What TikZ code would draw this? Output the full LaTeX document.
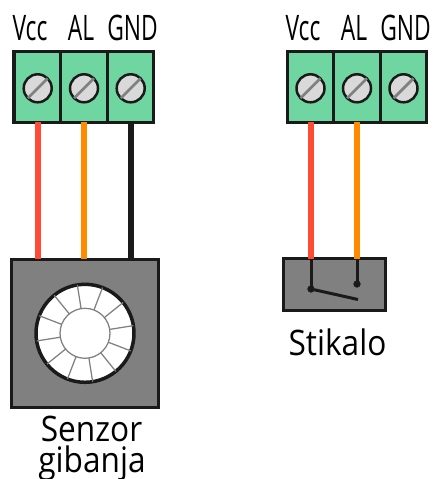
\documentclass[tikz,border=0pt]{standalone}
\usepackage{fontspec}
\setmainfont{Open Sans}
\newfontfamily\narrowfont[FakeStretch=0.65]{Open Sans}
\newfontfamily\captionfont[FakeStretch=0.9]{Open Sans}
\usepackage{xcolor}
\usetikzlibrary{positioning}
\definecolor{termgreen}{HTML}{6FD6A2}
\definecolor{screwgray}{HTML}{D9D9D9}
\definecolor{boxgray}{HTML}{808080}
\definecolor{wirered}{HTML}{FF4B33}
\definecolor{wireorange}{HTML}{FF8A00}
\definecolor{wireblack}{HTML}{1A1A1A}
\tikzset{
  cell/.style={draw=wireblack, fill=termgreen, line width=0.065cm, minimum width=0.93cm, minimum height=1.42cm, inner sep=0pt, outer sep=0pt},
  screw/.style={draw=wireblack, fill=screwgray, circle, line width=0.05cm, minimum size=0.56cm, inner sep=0pt, outer sep=0pt},
  slot/.style={draw=boxgray, line width=0.055cm},
  wire/.style={line width=0.12cm},
  housing/.style={draw=wireblack, fill=boxgray, line width=0.06cm, inner sep=0pt, outer sep=0pt},
  pin/.style={draw=wireblack, fill=wireblack, circle, minimum size=0.13cm, inner sep=0pt, outer sep=0pt},
  terminal/.style={font=\narrowfont\fontsize{20}{24}\selectfont, inner sep=0pt, anchor=base},
  caption/.style={font=\captionfont\fontsize{20}{24}\selectfont, inner sep=0pt, anchor=base}
}
\begin{document}
\begin{tikzpicture}[x=0.02cm, y=-0.02cm]
      \useasboundingbox (0, 0) rectangle (432, 479);
      % left side
      \node[cell] (VccL) at (37.3, 87) {};
      \node[cell] (ALL) at (84, 87) {};
      \node[cell] (GNDL) at (130.5, 87) {};
      \node[screw] (ScrewVL) at (37.7, 88.3) {};
      \node[screw] (ScrewAL) at (84, 88.3) {};
      \node[screw] (ScrewGL) at (130.7, 88.3) {};
      \draw[slot] (ScrewVL.225) -- (ScrewVL.45);
      \draw[slot] (ScrewAL.225) -- (ScrewAL.45);
      \draw[slot] (ScrewGL.225) -- (ScrewGL.45);
      \node[terminal] (LabelVL) at (30, 41) {Vcc};
      \node[terminal] (LabelAL) at (81, 41) {AL};
      \node[terminal] (LabelGL) at (132.5, 41) {GND};

      \node[housing, minimum width=2.95cm, minimum height=2.97cm] (Sensor) at (85.2, 333.3) {};
      \draw[wire, wirered] (VccL.south -| ScrewVL) -- (Sensor.north -| ScrewVL);
      \draw[wire, wireorange] (ALL.south -| ScrewAL) -- (Sensor.north -| ScrewAL);
      \draw[wire, wireblack] (GNDL.south -| ScrewGL) -- (Sensor.north -| ScrewGL);
      \node[draw=wireblack, fill=white, circle, line width=0.07cm, minimum size=1.96cm, inner sep=0pt, outer sep=0pt] (Lens) at (85, 333.3) {};
      \node[draw=boxgray, circle, line width=0.025cm, minimum size=1cm, inner sep=0pt, outer sep=0pt] (LensCore) at (85, 333.3) {};
      \foreach \a in {9, 39, ..., 339}
        \draw[boxgray, line width=0.025cm] (LensCore.\a) -- (Lens.\a);

      \node[caption] (SensorTop) at (91.5, 441) {Senzor};
      \node[caption] (SensorBottom) at (92, 472) {gibanja};

      % right side
      \node[cell] (VccR) at (310.5, 87) {};
      \node[cell] (ALR) at (357, 87) {};
      \node[cell] (GNDR) at (403.5, 87) {};
      \node[screw] (ScrewVR) at (310.5, 88.3) {};
      \node[screw] (ScrewAR) at (357, 88.3) {};
      \node[screw] (ScrewGR) at (403.5, 88.3) {};
      \draw[slot] (ScrewVR.225) -- (ScrewVR.45);
      \draw[slot] (ScrewAR.225) -- (ScrewAR.45);
      \draw[slot] (ScrewGR.225) -- (ScrewGR.45);
      \node[terminal] (LabelVR) at (303, 41) {Vcc};
      \node[terminal] (LabelAR) at (354, 41) {AL};
      \node[terminal] (LabelGR) at (405.5, 41) {GND};

      \node[housing, minimum width=2.04cm, minimum height=1.04cm] (Switch) at (334.5, 284.5) {};
      \draw[wire, wirered] (VccR.south -| ScrewVR) -- (Switch.north -| ScrewVR);
      \draw[wire, wireorange] (ALR.south -| ScrewAR) -- (Switch.north -| ScrewAR);
      \node[pin] (PinA) at (311, 289) {};
      \node[pin] (PinB) at (357, 284) {};
      \coordinate (Blade) at (358, 299.5);
      \draw[wireblack, line width=0.06cm] (Switch.north -| PinA) -- (PinA);
      \draw[wireblack, line width=0.06cm] (Switch.north -| PinB) -- (PinB);
      \draw[wireblack, line width=0.06cm] (PinA) -- (Blade);
      \node[caption] (SwitchLabel) at (337.5, 355) {Stikalo};
\end{tikzpicture}
\end{document}
